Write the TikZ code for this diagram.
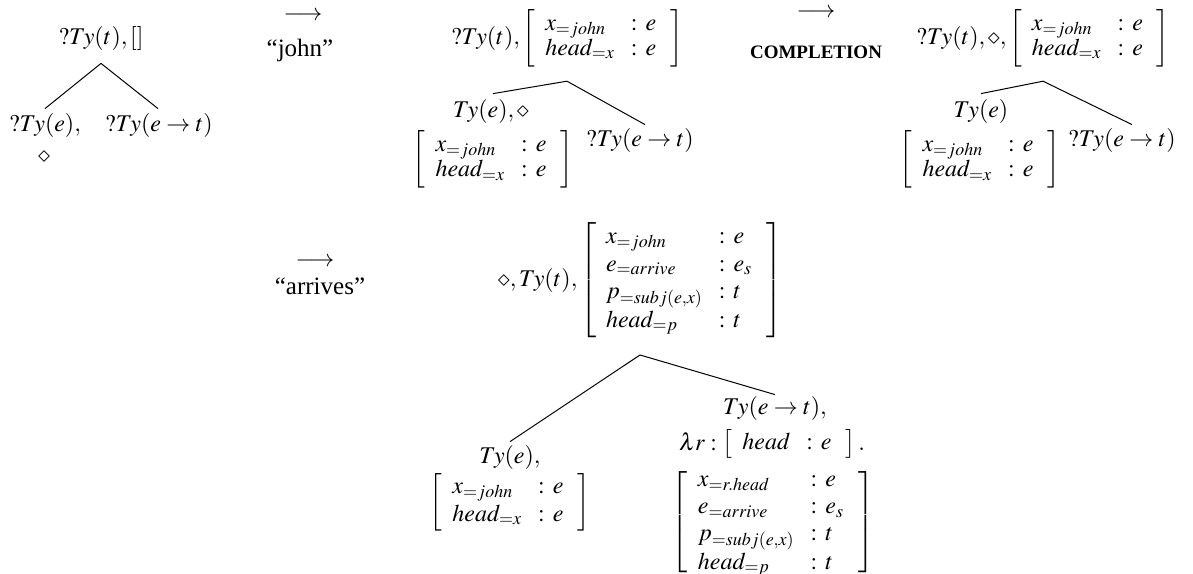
\documentclass[tikz,border=0pt]{standalone}
\usepackage{mathptmx}
\usepackage[no-math]{fontspec}
\setmainfont{Liberation Serif}
% record: #1 = arraystretch, #2 = rows
\newcommand{\rec}[2]{\left[\renewcommand{\arraystretch}{#1}\begin{array}{@{\hspace{5pt}}l@{\hspace{8pt}}c@{\hspace{4pt}}l@{\hspace{7pt}}}#2\end{array}\right]}
\begin{document}
\begin{tikzpicture}[x=0.5pt,y=-0.5pt,
  every node/.style={inner sep=0pt, font=\fontsize{12}{14.4}\selectfont},
  edge/.style={draw, line width=0.5pt},
  lbl/.style={font=\fontsize{12.5}{15}\selectfont},
  small/.style={font=\fontsize{9.5}{11}\selectfont\bfseries}]
\useasboundingbox (0,0) rectangle (1193,573);
% tree 1
\node (t1r) at (101,38) {$?Ty(t),[]$};
\node (t1a) at (45,125) {$?Ty(e),$};
\node (t1b) at (159,125) {$?Ty(e\rightarrow t)$};
\node (t1d) at (44,157) {$\diamond$};
\draw[edge] ([yshift=-6.5pt]t1r.south) -- ([yshift=2pt]t1a.north);
\draw[edge] ([yshift=-6.5pt]t1r.south) -- ([xshift=-0.5pt,yshift=2pt]t1b.north);
% transitions
\node (ar1) at (303,16) {$\longrightarrow$};
\node[lbl] (lb1) at (300,50) {“john”};
\node (ar2) at (816,13) {$\longrightarrow$};
\node[small] (lb2) at (816,52) {COMPLETION};
\node (ar3) at (315,262) {$\longrightarrow$};
\node[lbl] (lb3) at (320,286) {“arrives”};
% tree 2
\node (t2r) at (567,38) {$?Ty(t),\rec{0.83}{x_{=john} & : & e\\ head_{=x} & : & e}$};
\node (t2a) at (491,111) {$Ty(e),\diamond$};
\node (t2m) at (493,159) {$\rec{0.85}{x_{=john} & : & e\\ head_{=x} & : & e}$};
\node (t2b) at (640,140) {$?Ty(e\rightarrow t)$};
\draw[edge] ([yshift=-7pt]t2r.south) -- ([xshift=1pt,yshift=2.5pt]t2a.north);
\draw[edge] ([yshift=-7pt]t2r.south) -- ([xshift=2.5pt,yshift=1.5pt]t2b.north);
% tree 3
\node (t3r) at (1043,38) {$?Ty(t),\diamond,\rec{0.83}{x_{=john} & : & e\\ head_{=x} & : & e}$};
\node (t3a) at (981,111) {$Ty(e)$};
\node (t3m) at (980,159) {$\rec{0.85}{x_{=john} & : & e\\ head_{=x} & : & e}$};
\node (t3b) at (1122,140) {$?Ty(e\rightarrow t)$};
\draw[edge] ([yshift=-7pt]t3r.south) -- ([yshift=2.5pt]t3a.north);
\draw[edge] ([yshift=-7pt]t3r.south) -- ([xshift=5pt,yshift=1.5pt]t3b.north);
% tree 4
\node (t4r) at (640,280) {$\diamond,Ty(t),\rec{0.95}{x_{=john} & : & e\\ e_{=arrive} & : & e_s\\ p_{=subj(e,x)} & : & t\\ head_{=p} & : & t}$};
\node (t4a) at (510,457) {$Ty(e),$};
\node (t4m) at (510,502) {$\rec{0.95}{x_{=john} & : & e\\ head_{=x} & : & e}$};
\node (t4b) at (775,408) {$Ty(e\rightarrow t),$};
\node (t4c) at (772,444) {$\lambda r:\rec{1}{head & : & e}.$};
\node[anchor=north] (t4d) at (773,467) {$\rec{0.94}{x_{=r.head} & : & e\\ e_{=arrive} & : & e_s\\ p_{=subj(e,x)} & : & t\\ head_{=p} & : & t}$};
\draw[edge] ([yshift=-8.5pt]t4r.south) -- ([yshift=1.5pt]t4a.north);
\draw[edge] ([yshift=-8.5pt]t4r.south) -- ([yshift=0.5pt]t4b.north);
\end{tikzpicture}
\end{document}
